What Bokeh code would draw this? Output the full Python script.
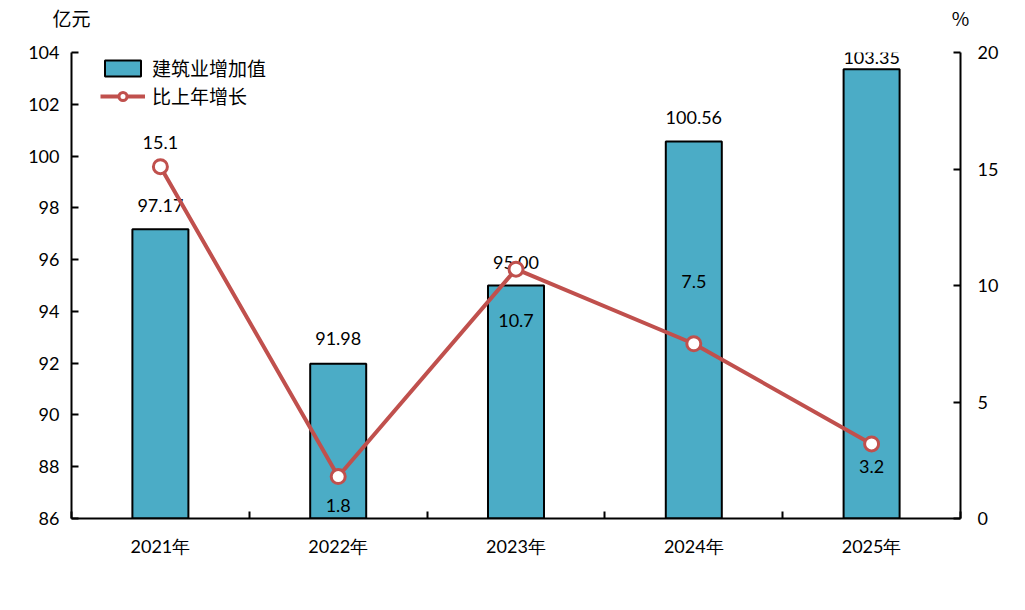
from bokeh.plotting import figure
from bokeh.models import (Range1d, LinearAxis, FixedTicker, ColumnDataSource,
                          Legend, LegendItem)
from bokeh.core.properties import value
from bokeh.embed import file_html
from bokeh.resources import INLINE

# ---- data ----
years = ["2021年", "2022年", "2023年", "2024年", "2025年"]
added_value = [97.17, 91.98, 95.00, 100.56, 103.35]   # 亿元
growth = [15.1, 1.8, 10.7, 7.5, 3.2]                   # %
bar_labels = ["97.17", "91.98", "95.00", "100.56", "103.35"]
growth_labels = ["15.1", "1.8", "10.7", "7.5", "3.2"]
left_ticks = [86, 88, 90, 92, 94, 96, 98, 100, 102, 104]
right_ticks = [0, 5, 10, 15, 20]
left_unit = "亿元"
right_unit = "%"

# ---- styling (label placement, px) ----
bar_label_dy = [-24, -25, -23, -24, -12]
growth_label_dy = [-24, 29, 51, -62, 23]

BAR_COLOR = "#4BACC6"
LINE_COLOR = "#C0504D"
NUM_FONT = "Lato"
CJK_FONT = "Noto Sans CJK SC"

FW, FH = 889, 466
YMIN, YMAX = 86, 104
n = len(years)
xs = list(range(n))

p = figure(frame_width=FW, frame_height=FH, output_backend="svg",
           toolbar_location=None, x_range=Range1d(-0.5, n - 0.5),
           y_range=Range1d(YMIN, YMAX),
           min_border_left=71, min_border_top=52, min_border_right=65,
           min_border_bottom=80)
p.outline_line_color = None
p.grid.visible = False
p.background_fill_color = "white"
p.border_fill_color = "white"
p.extra_y_ranges = {"pct": Range1d(0, 20)}

src = ColumnDataSource(dict(x=xs, v=added_value, g=growth,
                            bl=bar_labels, gl=growth_labels,
                            bdy=bar_label_dy, gdy=growth_label_dy))

bars = p.vbar(x="x", top="v", bottom=YMIN, width=0.315, source=src,
              fill_color=BAR_COLOR, line_color="black", line_width=2)
p.text(x="x", y="v", text="bl", y_offset="bdy", source=src,
       text_align="center", text_baseline="middle",
       text_font=value(NUM_FONT), text_font_size="18px", text_color="black")

line = p.line(x="x", y="g", source=src, y_range_name="pct",
              line_color=LINE_COLOR, line_width=4)
pts = p.scatter(x="x", y="g", source=src, y_range_name="pct", size=14,
                marker="circle", fill_color="white", line_color=LINE_COLOR,
                line_width=3)
p.text(x="x", y="g", text="gl", y_offset="gdy", source=src,
       y_range_name="pct", text_align="center", text_baseline="middle",
       text_font=value(NUM_FONT), text_font_size="18px", text_color="black")

# ---- axes ----
ax = p.xaxis[0]
ax.ticker = FixedTicker(ticks=xs, minor_ticks=[i + 0.5 for i in range(-1, n)])
ax.major_label_overrides = {i: y for i, y in enumerate(years)}
ax.major_tick_in = 0
ax.major_tick_out = 0
ax.minor_tick_in = 7
ax.minor_tick_out = 0
ax.minor_tick_line_color = "black"
ax.minor_tick_line_width = 2
ax.axis_line_width = 2
ax.axis_line_color = "black"
ax.major_label_text_font = NUM_FONT
ax.major_label_text_font_size = "18px"
ax.major_label_text_color = "black"
ax.major_label_standoff = 16

ly = p.yaxis[0]
ly.ticker = FixedTicker(ticks=left_ticks)
ly.minor_tick_line_color = None
ly.major_tick_in = 7
ly.major_tick_out = 0
ly.major_tick_line_width = 2
ly.axis_line_width = 2
ly.axis_line_color = "black"
ly.major_label_text_font = NUM_FONT
ly.major_label_text_font_size = "18px"
ly.major_label_text_color = "black"
ly.major_label_standoff = 12

ry = LinearAxis(y_range_name="pct", ticker=FixedTicker(ticks=right_ticks))
ry.minor_tick_line_color = None
ry.major_tick_in = 7
ry.major_tick_out = 0
ry.major_tick_line_width = 2
ry.axis_line_width = 2
ry.axis_line_color = "black"
ry.major_label_text_font = NUM_FONT
ry.major_label_text_font_size = "18px"
ry.major_label_text_color = "black"
ry.major_label_standoff = 17
p.add_layout(ry, "right")

# ---- unit titles (axis above, labels at the range ends) ----
top = LinearAxis(ticker=FixedTicker(ticks=[-0.5, n - 0.5]))
top.major_label_overrides = {-0.5: left_unit, n - 0.5: right_unit}
top.axis_line_color = None
top.major_tick_line_color = None
top.minor_tick_line_color = None
top.major_label_text_font = CJK_FONT
top.major_label_text_font_size = "19px"
top.major_label_text_color = "black"
top.major_label_standoff = 16
p.add_layout(top, "above")

# ---- legend ----
legend = Legend(items=[LegendItem(label="建筑业增加值", renderers=[bars]),
                       LegendItem(label="比上年增长", renderers=[line, pts])],
                location=(29, 409), orientation="vertical",
                glyph_width=45, glyph_height=20, label_height=20,
                label_standoff=7, spacing=1, padding=0, margin=0,
                border_line_color=None, background_fill_alpha=0,
                label_text_font=CJK_FONT, label_text_font_size="19px",
                label_text_color="black")
p.add_layout(legend)

open("out.html", "w").write(file_html(p, INLINE))
